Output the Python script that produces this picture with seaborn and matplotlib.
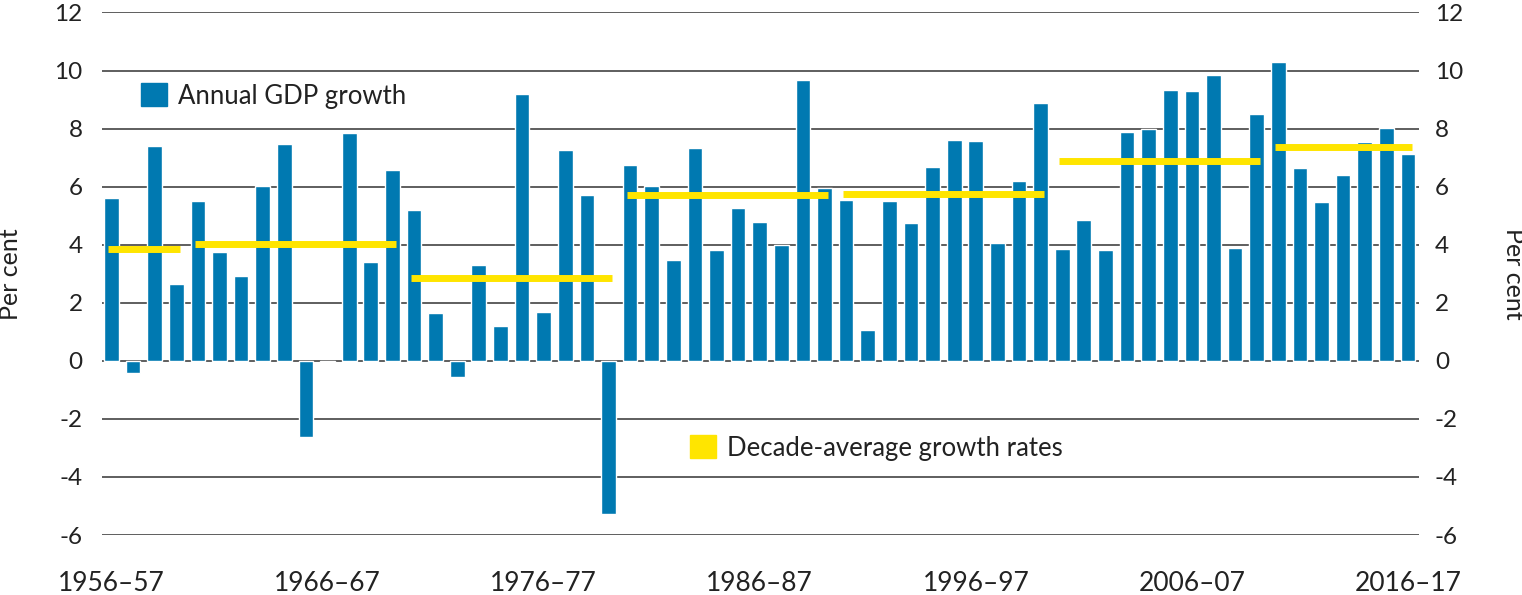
import numpy as np
import pandas as pd
import matplotlib
matplotlib.use('Agg')
import matplotlib.pyplot as plt
import seaborn as sns
from matplotlib.patches import Patch

# financial years 1956-57 .. 2016-17
years = [f'{y}–{str(y + 1)[-2:]}' for y in range(1956, 2017)]

gdp_growth = [5.60, -0.42, 7.41, 2.64, 5.51, 3.74, 2.94, 6.01, 7.47, -2.64,
              -0.05, 7.85, 3.40, 6.56, 5.18, 1.64, -0.56, 3.31, 1.19, 9.18,
              1.68, 7.28, 5.73, -5.26, 6.75, 6.01, 3.48, 7.32, 3.82, 5.26,
              4.79, 3.99, 9.66, 5.97, 5.55, 1.05, 5.50, 4.76, 6.69, 7.60,
              7.58, 4.06, 6.20, 8.89, 3.85, 4.84, 3.81, 7.89, 7.98, 9.33,
              9.29, 9.84, 3.89, 8.52, 10.30, 6.66, 5.48, 6.41, 7.53, 8.02,
              7.12]

# decade averages: first and last year of each decade
decade_start = ['1956–57', '1960–61', '1970–71', '1980–81', '1990–91', '2000–01', '2010–11']
decade_end = ['1959–60', '1969–70', '1979–80', '1989–90', '1999–00', '2009–10', '2016–17']
decade_avg = [3.86, 4.04, 2.85, 5.71, 5.76, 6.88, 7.36]

tick_years = ['1956–57', '1966–67', '1976–77', '1986–87', '1996–97', '2006–07', '2016–17']

blue = '#0079b1'
yellow = '#ffe500'
dark = '#222222'

df = pd.DataFrame({'year': years, 'growth': gdp_growth})

sns.set_theme(style='white')
plt.rcParams['font.family'] = ['Lato', 'DejaVu Sans']

fig = plt.figure(figsize=(15.22, 5.95), dpi=100)
ax = fig.add_axes([0.067, 0.1008, 0.8653, 0.8782])

ax.set_axisbelow(True)
ax.yaxis.grid(True, color='#333333', lw=1.1)
sns.barplot(data=df, x='year', y='growth', color=blue, width=0.68,
            saturation=1, ax=ax, zorder=2)

pos = {y: i for i, y in enumerate(years)}
for s, e, v in zip(decade_start, decade_end, decade_avg):
    ax.hlines(v, pos[s] - 0.15, pos[e] + 0.17, colors=yellow, lw=5, zorder=3)

ax.set_xlim(-0.44, 60.51)
ax.set_ylim(-6, 12)
yt = np.arange(-6, 13, 2)
ax.set_yticks(yt)
ax.set_yticklabels([str(v) for v in yt])
ax.set_xticks([pos[t] for t in tick_years])
ax.set_xticklabels(tick_years)
ax.set_xlabel('')
ax.set_ylabel('Per cent', fontsize=18, color=dark)
ax.yaxis.set_label_coords(-0.0605, 0.5)
ax.tick_params(axis='y', length=0, pad=14, labelsize=17.5, labelcolor=dark)
ax.tick_params(axis='x', length=0, pad=26, labelsize=19, labelcolor=dark)
sns.despine(ax=ax, left=True, bottom=True)

ax2 = ax.twinx()
ax2.set_ylim(-6, 12)
ax2.set_yticks(yt)
ax2.set_yticklabels([str(v) for v in yt])
ax2.tick_params(axis='y', length=0, pad=11.5, labelsize=17.5, labelcolor=dark)
ax2.set_ylabel('Per cent', fontsize=18, color=dark, rotation=270, va='bottom')
ax2.yaxis.set_label_coords(1.063, 0.5)
sns.despine(ax=ax2, left=True, bottom=True, right=True)

leg1 = ax.legend(handles=[Patch(color=blue, label='Annual GDP growth')],
                 loc='center left', bbox_to_anchor=(0.012, 0.840), frameon=False,
                 fontsize=18.5, handlelength=1.0, handleheight=1.0, handletextpad=0.45,
                 labelcolor=dark)
ax.add_artist(leg1)
ax.legend(handles=[Patch(color=yellow, label='Decade-average growth rates')],
          loc='center left', bbox_to_anchor=(0.429, 0.1665), frameon=False,
          fontsize=18.5, handlelength=1.0, handleheight=1.0, handletextpad=0.45,
          labelcolor=dark)

fig.savefig('out.png', dpi=100)
